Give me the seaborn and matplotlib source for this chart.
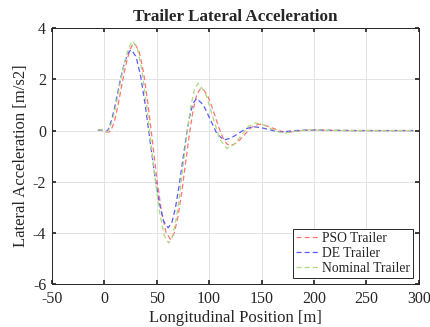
import matplotlib
matplotlib.use("Agg")
import matplotlib.pyplot as plt
import seaborn as sns
import pandas as pd

# PSO Trailer
pso_x = [-6, -3, 0, 3, 5, 7, 10, 13, 16, 19, 22, 25, 27, 29, 33.25, 37.5, 41.75, 46, 50.25, 54.5, 58.75, 63,
         66.6, 70.25, 73.9, 77.5, 81.1, 84.75, 88.4, 92, 95.5, 99, 102.5, 106, 109.5, 113, 116.5, 120,
         126.75, 133.5, 140.25, 147, 154, 161, 168, 175, 187, 200, 215, 240, 270, 295]
pso_y = [0.03, 0.02, 0.0, -0.06, -0.05, 0.05, 0.4, 0.95, 1.6, 2.25, 2.8, 3.2, 3.35, 3.4, 3.11, 2.28, 1.04, -0.425, -1.89, -3.13, -3.96, -4.25,
         -4.03, -3.39, -2.43, -1.3, -0.17, 0.79, 1.43, 1.65, 1.56, 1.32, 0.955, 0.525, 0.094, -0.27, -0.51, -0.6,
         -0.475, -0.175, 0.125, 0.25, 0.20, 0.09, -0.02, -0.07, 0.0, 0.03, 0.01, 0.0, 0.0, 0.0]

# DE Trailer
de_x = [-6, -3, 0, 2, 4, 7, 10, 13, 16, 19, 22, 24, 26, 30.4, 34.75, 39.1, 43.5, 47.9, 52.25, 56.6, 61,
        64.4, 67.75, 71.1, 74.5, 77.9, 81.25, 84.6, 88, 94.5, 101, 107.5, 114, 121, 128, 135, 142,
        149, 156, 163, 170, 182, 195, 210, 240, 270, 295]
de_y = [0.02, 0.01, -0.02, -0.04, 0.05, 0.4, 0.9, 1.5, 2.1, 2.6, 2.95, 3.1, 3.15, 2.89, 2.13, 1.01, -0.325, -1.66, -2.78, -3.54, -3.8,
        -3.61, -3.06, -2.24, -1.275, -0.31, 0.51, 1.06, 1.25, 1.01, 0.44, -0.13, -0.37, -0.29, -0.11, 0.07, 0.15,
        0.12, 0.05, -0.02, -0.05, 0.0, 0.02, 0.01, 0.0, 0.0, 0.0]

# Nominal Trailer
nom_x = [-6, -3, 0, 2, 4, 7, 10, 13, 16, 19, 22, 25, 27.5, 31.75, 36, 40.25, 44.5, 48.75, 53, 57.25, 61.5,
         65, 68.5, 72, 75.5, 79, 82.5, 86, 89.5, 96.4, 103.25, 110.1, 117, 123.75, 130.5, 137.25, 144,
         151, 158, 165, 172, 185, 197, 210, 240, 270, 295]
nom_y = [0.03, 0.02, -0.01, -0.05, -0.02, 0.3, 0.75, 1.35, 2.0, 2.6, 3.05, 3.38, 3.5, 3.20, 2.34, 1.06, -0.45, -1.96, -3.24, -4.10, -4.4,
         -4.16, -3.49, -2.47, -1.275, -0.08, 0.935, 1.61, 1.85, 1.48, 0.575, -0.33, -0.7, -0.55, -0.2, 0.154, 0.3,
         0.241, 0.1, -0.04, -0.1, -0.01, 0.03, 0.01, 0.0, 0.0, 0.0]

labels = ["PSO Trailer", "DE Trailer", "Nominal Trailer"]
x_ticks = [-50, 0, 50, 100, 150, 200, 250, 300]
y_ticks = [-6, -4, -2, 0, 2, 4]

sns.set_theme(style="white")
plt.rcParams["font.family"] = ["Liberation Serif", "DejaVu Serif"]
plt.rcParams["axes.unicode_minus"] = False

fig = plt.figure(figsize=(4.31, 3.27), dpi=100)
ax = fig.add_axes([0.120, 0.1315, 0.852, 0.782])

colors = [(1.0, 0.45, 0.45), (0.35, 0.35, 1.0), (0.68, 0.85, 0.50)]
series = [(pso_x, pso_y), (de_x, de_y), (nom_x, nom_y)]
for (xs, ys), lab, c in zip(series, labels, colors):
    df = pd.DataFrame({"x": xs, "y": ys})
    sns.lineplot(data=df, x="x", y="y", ax=ax, color=c, linewidth=0.9,
                 linestyle=(0, (4, 2.5)), label=lab, sort=False)

ax.set_xlim(-50, 300)
ax.set_ylim(-6, 4)
ax.set_xticks(x_ticks)
ax.set_yticks(y_ticks)
ax.grid(True, color="#e3e3e3", linewidth=0.7)
ax.tick_params(direction="in", length=3, labelsize=11.5, colors="#262626",
               top=True, right=True, bottom=True, left=True)
ax.tick_params(axis="x", pad=5)
ax.tick_params(axis="y", pad=4)
for s in ax.spines.values():
    s.set_color("#262626")
    s.set_linewidth(0.7)
ax.set_xlabel("Longitudinal Position [m]", fontsize=12, color="#262626", labelpad=2)
ax.set_ylabel("Lateral Acceleration [m/s2]", fontsize=12, color="#262626", labelpad=3)
ax.set_title("Trailer Lateral Acceleration", fontsize=12.3, fontweight="bold", pad=5)

leg = ax.legend(loc="lower right", fontsize=9.8, frameon=True, fancybox=False,
                edgecolor="#262626", framealpha=1, borderpad=0.2, labelspacing=0.15,
                handlelength=1.8, handletextpad=0.15, borderaxespad=0.45)
leg.get_frame().set_linewidth(0.7)

fig.savefig("out.png", dpi=100)
